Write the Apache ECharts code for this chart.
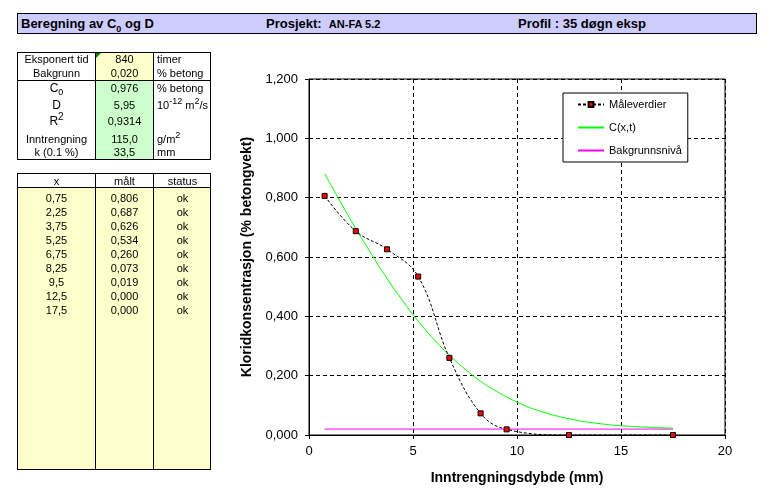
<!DOCTYPE html>
<html>
<head>
<meta charset="utf-8">
<script src="https://cdn.jsdelivr.net/npm/echarts@6/dist/echarts.min.js"></script>
<style>
  body { margin: 0; width: 774px; height: 501px; background: #fff; position: relative; overflow: hidden;
         font-family: Arial, "Liberation Sans", sans-serif; color: #000; }
  #chart { position: absolute; left: 0; top: 0; width: 774px; height: 501px; }
  .box { position: absolute; box-sizing: border-box; border: 1px solid #000; }
  .fill { position: absolute; }
  .vl { position: absolute; top: 0; bottom: 0; width: 1px; background: #000; }
  .hl { position: absolute; left: 0; right: 0; height: 1px; background: #000; }
  .cell { position: absolute; font-size: 11px; line-height: 13px; height: 13px; white-space: nowrap; }
  .c { text-align: center; }
  #tittel { left: 17px; top: 13px; width: 740px; height: 21px; background: #ccccff; z-index: 2; }
  #tittel span { position: absolute; top: 2px; font-size: 13px; font-weight: bold; white-space: nowrap; }
  sub, sup { font-size: 9px; line-height: 0; }
</style>
</head>
<body>
<div id="chart"></div>
<div id="tittel" class="box">
  <span style="left:3px">Beregning av C<sub>0</sub> og D</span>
  <span style="left:248px">Prosjekt:&nbsp; <span style="position:static;font-size:11px">AN-FA 5.2</span></span>
  <span style="left:500px">Profil : 35 døgn eksp</span>
</div>
<div id="parametre" class="box" style="left:17px;top:52px;width:194px;height:108px;z-index:2"></div>
<div id="maalinger" class="box" style="left:17px;top:173px;width:194px;height:297px;z-index:2"></div>

<script>
// parametre (øvre tabell)
const paramNavn = ['Eksponert tid', 'Bakgrunn', 'C<sub>0</sub>', 'D', 'R<sup style="font-size:10px">2</sup>', 'Inntrengning', 'k (0.1 %)'];
const paramVerdi = ['840', '0,020', '0,976', '5,95', '0,9314', '115,0', '33,5'];
const paramEnhet = ['timer', '% betong', '% betong', '10<sup>-12</sup> m<sup>2</sup>/s', '', 'g/m<sup>2</sup>', 'mm'];

// målte verdier
const xMaalt = [0.75, 2.25, 3.75, 5.25, 6.75, 8.25, 9.5, 12.5, 17.5];
const maalt = [0.806, 0.687, 0.626, 0.534, 0.260, 0.073, 0.019, 0.000, 0.000];
const status = ['ok', 'ok', 'ok', 'ok', 'ok', 'ok', 'ok', 'ok', 'ok'];

// tilpasset kurve C(x,t)
const xModell = [0.75, 1.5, 2.25, 3, 3.75, 4.5, 5.25, 6, 6.75, 7.5, 8.25, 9, 10, 11, 12.5, 14, 15.5, 17.5];
const cModell = [0.881, 0.787, 0.696, 0.610, 0.528, 0.453, 0.384, 0.323, 0.269, 0.222, 0.181, 0.148, 0.111, 0.083, 0.055, 0.038, 0.029, 0.023];

// bakgrunnsnivå
const xBakgrunn = [0.75, 17.5];
const bakgrunn = [0.020, 0.020];

const xTicks = [0, 20, 5];
const yTicks = [0, 1.2, 0.2];

function komma(v, d) { return v.toFixed(d).replace('.', ','); }

// ---- øvre tabell ----
const p = document.getElementById('parametre');
const radY = [0, 14, 29, 46, 62, 80, 93];
let html = '<div class="fill" style="left:77px;top:0;width:58px;height:27px;background:#ffffcc"></div>' +
  '<div class="fill" style="left:77px;top:28px;width:58px;height:78px;background:#ccffcc"></div>' +
  '<div class="fill" style="left:78px;top:0;width:0;height:0;border-top:5px solid #008000;border-right:5px solid transparent"></div>' +
  '<div class="vl" style="left:77px"></div><div class="vl" style="left:135px"></div>' +
  '<div class="hl" style="top:27px"></div>';
paramNavn.forEach((n, i) => {
  const big = i >= 2 && i <= 4 ? 'font-size:12px;' : '';
  html += '<div class="cell c" style="left:0;width:77px;top:' + radY[i] + 'px;' + big + '">' + n + '</div>' +
    '<div class="cell c" style="left:78px;width:57px;top:' + radY[i] + 'px">' + paramVerdi[i] + '</div>' +
    '<div class="cell" style="left:139px;top:' + radY[i] + 'px">' + paramEnhet[i] + '</div>';
});
p.innerHTML = html;

// ---- nedre tabell ----
const m = document.getElementById('maalinger');
html = '<div class="fill" style="left:0;right:0;top:14px;bottom:0;background:#ffffcc"></div>' +
  '<div class="vl" style="left:77px"></div><div class="vl" style="left:135px"></div>' +
  '<div class="hl" style="top:13px"></div>' +
  '<div class="cell c" style="left:0;width:77px;top:1px">x</div>' +
  '<div class="cell c" style="left:78px;width:57px;top:1px">målt</div>' +
  '<div class="cell c" style="left:136px;width:57px;top:1px">status</div>';
xMaalt.forEach((x, i) => {
  const y = 18 + i * 14;
  html += '<div class="cell c" style="left:0;width:77px;top:' + y + 'px">' + String(x).replace('.', ',') + '</div>' +
    '<div class="cell c" style="left:78px;width:57px;top:' + y + 'px">' + komma(maalt[i], 3) + '</div>' +
    '<div class="cell c" style="left:136px;width:57px;top:' + y + 'px">' + status[i] + '</div>';
});
m.innerHTML = html;

// ---- diagram ----
const chart = echarts.init(document.getElementById('chart'));
const font = 'Arial';
const strek = 'path://M0 0H26V2H0Z';
chart.setOption({
  animation: false,
  grid: { left: 309, top: 79, width: 416, height: 356, show: true, borderColor: '#000', borderWidth: 1 },
  legend: {
    orient: 'vertical', left: 563, top: 93,
    backgroundColor: '#fff', borderColor: '#000', borderWidth: 1,
    padding: [6, 6, 6, 14], itemGap: 12, itemWidth: 26, itemHeight: 6,
    textStyle: { fontFamily: font, fontSize: 11, color: '#000' },
    data: [
      { name: 'Måleverdier' },
      { name: 'C(x,t)', icon: strek, itemStyle: { color: '#00ff00' } },
      { name: 'Bakgrunnsnivå', icon: strek, itemStyle: { color: '#ff00ff' } }
    ]
  },
  xAxis: {
    type: 'value', min: xTicks[0], max: xTicks[1], interval: xTicks[2],
    name: 'Inntrengningsdybde (mm)', nameLocation: 'middle', nameGap: 36,
    nameTextStyle: { fontFamily: font, fontSize: 14, fontWeight: 'bold', color: '#000' },
    axisLine: { lineStyle: { color: '#000', width: 1 } },
    axisTick: { length: 4, lineStyle: { color: '#000' } },
    axisLabel: { margin: 10, fontFamily: font, fontSize: 13, color: '#000' },
    splitLine: { lineStyle: { color: '#000', type: [4, 3], width: 1 } }
  },
  yAxis: {
    type: 'value', min: yTicks[0], max: yTicks[1], interval: yTicks[2],
    name: 'Kloridkonsentrasjon (% betongvekt)', nameLocation: 'middle', nameGap: 49,
    nameTextStyle: { fontFamily: font, fontSize: 14, fontWeight: 'bold', color: '#000' },
    axisLine: { show: true, lineStyle: { color: '#000', width: 1 } },
    axisTick: { show: true, length: 4, lineStyle: { color: '#000' } },
    axisLabel: { margin: 11, fontFamily: font, fontSize: 13, color: '#000', formatter: v => komma(v, 3) },
    splitLine: { lineStyle: { color: '#000', type: [4, 3], width: 1 } }
  },
  series: [
    {
      name: 'Måleverdier', type: 'line', smooth: 0.4,
      data: xMaalt.map((x, i) => [x, maalt[i]]),
      symbol: 'rect', symbolSize: 5,
      lineStyle: { color: '#000', width: 1, type: [3, 2] },
      itemStyle: { color: '#ff0000', borderColor: '#000', borderWidth: 1 },
      z: 4
    },
    {
      name: 'C(x,t)', type: 'line', smooth: true, symbol: 'none', color: '#00ff00',
      data: xModell.map((x, i) => [x, cModell[i]]),
      lineStyle: { color: '#00ff00', width: 1 },
      itemStyle: { color: '#00ff00' },
      z: 3
    },
    {
      name: 'Bakgrunnsnivå', type: 'line', symbol: 'none', color: '#ff00ff',
      data: xBakgrunn.map((x, i) => [x, bakgrunn[i]]),
      lineStyle: { color: '#ff00ff', width: 1 },
      itemStyle: { color: '#ff00ff' },
      z: 2
    }
  ]
});
</script>
</body>
</html>
